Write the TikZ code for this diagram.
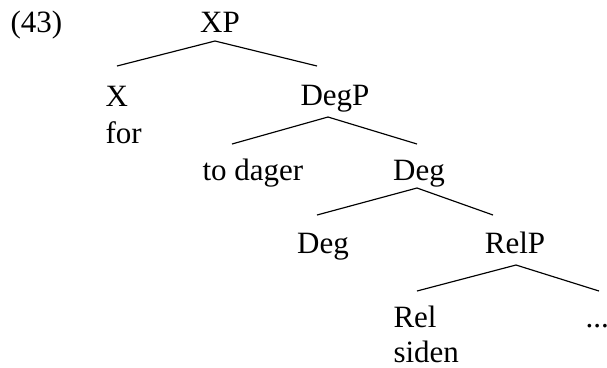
\documentclass[tikz,border=0pt]{standalone}
\usepackage{fontspec}
\setmainfont{Liberation Serif}
\usepackage{tikz}
\usetikzlibrary{calc,positioning}

\begin{document}
\begin{tikzpicture}[x=0.387pt,y=-0.387pt,
lbl/.style={inner sep=0,font=\fontsize{12}{14}\selectfont,anchor=base},
lblw/.style={lbl,anchor=base west},
branch/.style={line width=0.45pt}]
 \useasboundingbox (0,0) rectangle (607,367);
 \node[lblw] (ex) at (10,32) {(43)};
 \node[lbl] (XP) at (220,32) {XP};
 \node[lblw] (X) at (105,106) {X};
 \node[lblw] (for) at (105,143) {for};
 \node[lbl] (DegP) at (335,105) {DegP};
 \node[lblw] (dager) at (202,180) {to dager};
 \node[lbl] (DegA) at (419,180) {Deg};
 \node[lbl] (DegB) at (323,253) {Deg};
 \node[lbl] (RelP) at (515,253) {RelP};
 \node[lblw] (Rel) at (393,327) {Rel};
 \node[lblw] (siden) at (393,362) {siden};
 \node[lblw] (dots) at (585,327) {...};
 % branches
 \draw[branch] ($(XP.base)+(-5,9)$) coordinate (XPa) -- ($(X.base west)+(12,-40)$);
 \draw[branch] (XPa) -- ($(DegP.base)+(-18,-39)$);
 \draw[branch] ($(DegP.base)+(-7,12)$) coordinate (DegPa) -- ($(dager.base west)+(30,-36)$);
 \draw[branch] (DegPa) -- ($(DegA.base)+(-2,-36)$);
 \draw[branch] ($(DegA.base)+(-2,8)$) coordinate (DegAa) -- ($(DegB.base)+(-6,-38)$);
 \draw[branch] (DegAa) -- ($(RelP.base)+(-22,-38)$);
 \draw[branch] ($(RelP.base)+(1,12)$) coordinate (RelPa) -- ($(Rel.base west)+(24,-36)$);
 \draw[branch] (RelPa) -- ($(dots.base west)+(14,-36)$);
\end{tikzpicture}
\end{document}
